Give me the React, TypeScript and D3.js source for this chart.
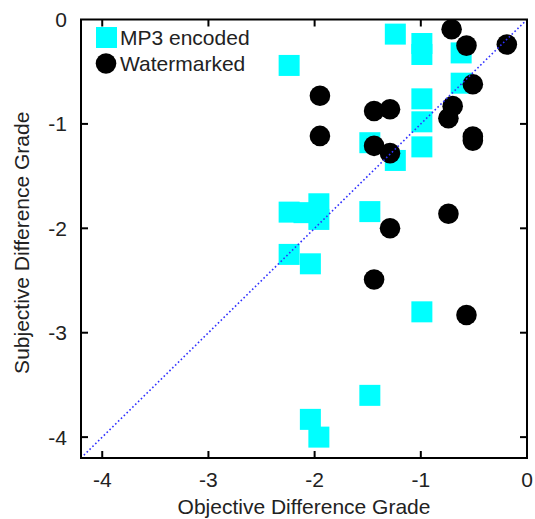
import React, { useEffect, useRef } from 'react';
import * as d3 from 'd3';

// MP3 encoded (cyan squares)
const mp3X = [-1.24, -0.99, -0.99, -0.62, -2.24, -0.62, -0.99, -0.99, -0.99, -1.48, -1.24,
  -2.24, -2.1, -1.96, -1.96, -1.48, -2.24, -2.04, -0.99, -1.48, -2.04, -1.96];
const mp3Y = [-0.14, -0.23, -0.335, -0.32, -0.44, -0.61, -0.76, -0.98, -1.22, -1.18, -1.35,
  -1.845, -1.85, -1.765, -1.915, -1.84, -2.25, -2.34, -2.8, -3.6, -3.83, -4.0];

// Watermarked (black circles)
const wmX = [-0.71, -0.57, -0.19, -0.51, -1.95, -1.44, -1.29, -0.7, -0.74, -1.95, -0.51, -0.51,
  -1.44, -1.29, -0.74, -1.29, -1.44, -0.57];
const wmY = [-0.094, -0.25, -0.24, -0.62, -0.73, -0.876, -0.86, -0.83, -0.945, -1.115, -1.12, -1.16,
  -1.21, -1.28, -1.86, -2.0, -2.49, -2.83];

const xTicks = [-4, -3, -2, -1, 0];
const yTicks = [-4, -3, -2, -1, 0];
const domainMin = -4.2;

const App = () => {
  const svgRef = useRef<SVGSVGElement>(null);

  useEffect(() => {
    const width = 535;
    const height = 519;
    const left = 81, right = 527, top = 19.5, bottom = 458;
    const font = '"Liberation Sans", Arial, sans-serif';
    const fs = '21px';

    const svg = d3.select(svgRef.current)
      .attr('width', width)
      .attr('height', height);
    svg.selectAll('*').remove();

    const x = d3.scaleLinear().domain([domainMin, 0]).range([left, right]);
    const y = d3.scaleLinear().domain([domainMin, 0]).range([bottom, top]);

    const clip = svg.append('defs').append('clipPath').attr('id', 'plotclip');
    clip.append('rect').attr('x', left).attr('y', top).attr('width', right - left).attr('height', bottom - top);

    const plot = svg.append('g').attr('clip-path', 'url(#plotclip)');

    const sq = 21;
    const mp3 = mp3X.map((v, i) => ({ x: v, y: mp3Y[i] }));
    const wm = wmX.map((v, i) => ({ x: v, y: wmY[i] }));

    plot.selectAll('rect.mp3')
      .data(mp3)
      .enter()
      .append('rect')
      .attr('class', 'mp3')
      .attr('x', d => x(d.x) - sq / 2)
      .attr('y', d => y(d.y) - sq / 2)
      .attr('width', sq)
      .attr('height', sq)
      .style('fill', '#00ffff');

    plot.selectAll('circle.wm')
      .data(wm)
      .enter()
      .append('circle')
      .attr('class', 'wm')
      .attr('cx', d => x(d.x))
      .attr('cy', d => y(d.y))
      .attr('r', 10.3)
      .style('fill', '#000');

    // diagonal y = x
    plot.append('line')
      .attr('x1', x(domainMin))
      .attr('y1', y(domainMin))
      .attr('x2', x(0))
      .attr('y2', y(0))
      .style('stroke', '#3030ff')
      .style('stroke-width', 1.6)
      .style('stroke-dasharray', '1.6,2.4');

    // frame
    svg.append('rect')
      .attr('x', left)
      .attr('y', top)
      .attr('width', right - left)
      .attr('height', bottom - top)
      .style('fill', 'none')
      .style('stroke', '#000')
      .style('stroke-width', 2);

    const tk = 7;
    xTicks.forEach(t => {
      if (t === 0) return;
      svg.append('line').attr('x1', x(t)).attr('x2', x(t)).attr('y1', bottom).attr('y2', bottom - tk)
        .style('stroke', '#000').style('stroke-width', 2);
      svg.append('line').attr('x1', x(t)).attr('x2', x(t)).attr('y1', top).attr('y2', top + tk)
        .style('stroke', '#000').style('stroke-width', 2);
    });
    yTicks.forEach(t => {
      if (t === 0) return;
      svg.append('line').attr('x1', left).attr('x2', left + tk).attr('y1', y(t)).attr('y2', y(t))
        .style('stroke', '#000').style('stroke-width', 2);
      svg.append('line').attr('x1', right).attr('x2', right - tk).attr('y1', y(t)).attr('y2', y(t))
        .style('stroke', '#000').style('stroke-width', 2);
    });

    // tick labels
    svg.selectAll('text.xt')
      .data(xTicks)
      .enter()
      .append('text')
      .attr('class', 'xt')
      .attr('x', d => x(d))
      .attr('y', 487)
      .attr('text-anchor', 'middle')
      .style('font-family', font)
      .style('font-size', fs)
      .style('fill', '#222')
      .text(d => d3.format('d')(d).replace('−', '-'));

    svg.selectAll('text.yt')
      .data(yTicks)
      .enter()
      .append('text')
      .attr('class', 'yt')
      .attr('x', 67)
      .attr('y', d => y(d) + 7.5)
      .attr('text-anchor', 'end')
      .style('font-family', font)
      .style('font-size', fs)
      .style('fill', '#222')
      .text(d => d3.format('d')(d).replace('−', '-'));

    // axis titles
    svg.append('text')
      .attr('x', (left + right) / 2)
      .attr('y', 514)
      .attr('text-anchor', 'middle')
      .style('font-family', font)
      .style('font-size', fs)
      .style('fill', '#222')
      .text('Objective Difference Grade');

    svg.append('text')
      .attr('text-anchor', 'middle')
      .attr('transform', `translate(29, ${(top + bottom) / 2 + 4}) rotate(-90)`)
      .style('font-family', font)
      .style('font-size', fs)
      .style('fill', '#222')
      .text('Subjective Difference Grade');

    // legend
    const legend = svg.append('g');
    legend.append('rect')
      .attr('x', 96).attr('y', 27).attr('width', sq).attr('height', sq)
      .style('fill', '#00ffff');
    legend.append('text')
      .attr('x', 120).attr('y', 45)
      .style('font-family', font)
      .style('font-size', fs)
      .style('fill', '#222')
      .text('MP3 encoded');
    legend.append('circle')
      .attr('cx', 106).attr('cy', 63.5).attr('r', 10.3)
      .style('fill', '#000');
    legend.append('text')
      .attr('x', 120).attr('y', 70.5)
      .style('font-family', font)
      .style('font-size', fs)
      .style('fill', '#222')
      .text('Watermarked');
  }, []);

  return (
    <div style={{ position: 'absolute', left: 0, top: 0 }}>
      <svg ref={svgRef}></svg>
    </div>
  );
};

export default App;
